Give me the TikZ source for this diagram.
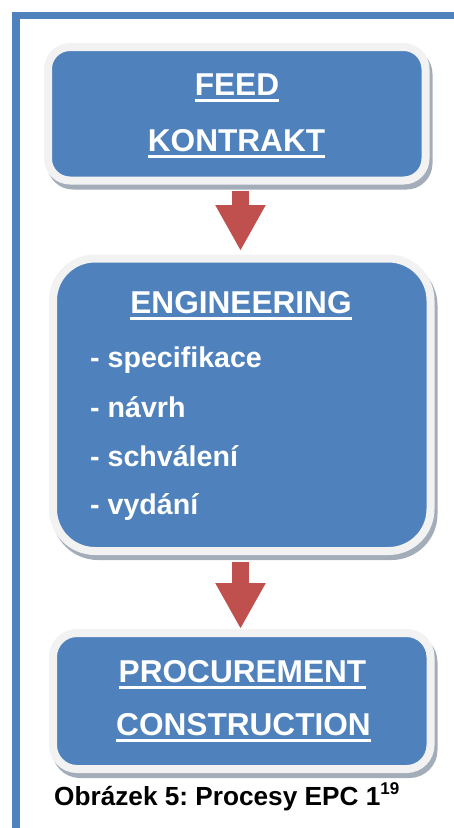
\documentclass[tikz,border=0pt]{standalone}
\usepackage{fontspec}
\setmainfont{Liberation Sans}
\usetikzlibrary{arrows.meta,calc}
\frenchspacing

\definecolor{epcblue}{HTML}{4F81BD}
\definecolor{rimgray}{HTML}{F2F2F2}
\definecolor{shadegray}{HTML}{A3ADBA}
\definecolor{flowred}{HTML}{C0504D}

% white bold text with a thick underline
\newcommand\epcul[1]{\setbox0=\hbox{#1}\rlap{\rule[-7pt]{\wd0}{2.6pt}}\box0}

\tikzset{
  stagebox/.style={draw=rimgray, line width=8pt, fill=epcblue, inner sep=0pt,
    minimum width=377.5pt},
  stageshade/.style={fill=shadegray, draw=shadegray, line width=8pt, inner sep=0pt,
    minimum width=377.5pt},
  stagetitle/.style={text=white, font=\bfseries\fontsize{31.6}{31.6}\selectfont,
    inner sep=0pt, anchor=base},
  stageitem/.style={text=white, font=\bfseries\fontsize{28.6}{28.6}\selectfont,
    inner sep=0pt, anchor=base west},
  flowarrow/.style={draw=flowred, line width=17pt,
    -{Triangle[width=47pt,length=46pt]}},
  figcaption/.style={text=black, font=\bfseries\fontsize{26.2}{26.2}\selectfont,
    inner sep=0pt, anchor=base west}
}

\begin{document}
\begin{tikzpicture}[x=1pt,y=-1pt]
\useasboundingbox (0,0) rectangle (454,828);

% page frame (left and top rules)
\fill[epcblue] (12,12) rectangle (20,828);
\fill[epcblue] (12,12) rectangle (454,19);

% shadows of the three stages
\node[stageshade, rounded corners=22pt, minimum height=133.5pt] at (239.75,118.75) {};
\node[stageshade, rounded corners=42pt, minimum height=292.5pt] at (244.75,409.75) {};
\node[stageshade, rounded corners=24pt, minimum height=136pt] at (244.75,706) {};

% the three stages
\node[stagebox, rounded corners=22pt, minimum height=133.5pt] (feed) at (236.75,113.75) {};
\node[stagebox, rounded corners=42pt, minimum height=292.5pt] (eng) at (241.75,404.75) {};
\node[stagebox, rounded corners=24pt, minimum height=136pt] (pc) at (241.75,701) {};

% flow between stages
\coordinate (ax) at (240.5,0);
\draw[flowarrow] ($(ax |- feed.south)+(0,6.5)$) -- ($(ax |- eng.north)+(0,-3.5)$);
\draw[flowarrow] ($(ax |- eng.south)+(0,6.5)$) -- ($(ax |- pc.north)+(0,0)$);

% stage texts
\node[stagetitle] (feedA) at (237,95) {\epcul{FEED}};
\node[stagetitle] (feedB) at (236.5,151) {\epcul{KONTRAKT}};

\node[stagetitle] (engT) at (241,313) {\epcul{ENGINEERING}};
\node[stageitem] (eng1) at (90,367) {- specifikace};
\node[stageitem] (eng2) at (90,417) {- návrh};
\node[stageitem] (eng3) at (90,466) {- schválení};
\node[stageitem] (eng4) at (90,514) {- vydání};

\node[stagetitle] (pcA) at (242.5,682) {\epcul{PROCUREMENT}};
\node[stagetitle] (pcB) at (243.5,735) {\epcul{CONSTRUCTION}};

% caption
\node[figcaption] (cap) at (54,805)
  {Obrázek 5: Procesy EPC 1\raisebox{0.4em}{\fontsize{17}{17}\selectfont 19}};
\end{tikzpicture}
\end{document}
